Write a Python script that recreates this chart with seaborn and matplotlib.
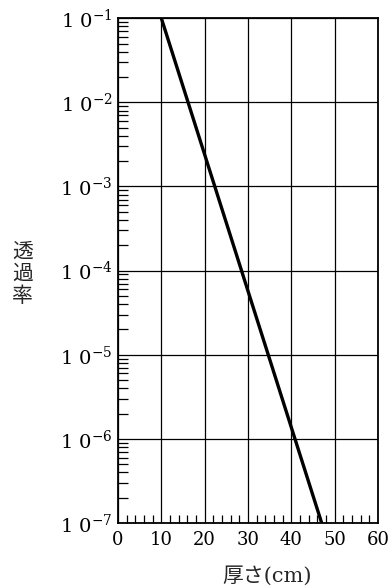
import numpy as np
import matplotlib
matplotlib.use("Agg")
import matplotlib.pyplot as plt
from matplotlib.ticker import LogLocator, MultipleLocator, FixedLocator, FixedFormatter, NullFormatter
import seaborn as sns

sns.set_style("white")
plt.rcParams['font.family'] = ['DejaVu Serif', 'Noto Sans CJK JP']
plt.rcParams['mathtext.fontset'] = 'dejavuserif'

# === data ===
thickness = [10, 47]              # cm
transmission = [1e-1, 1e-7]
x_ticks = [0, 10, 20, 30, 40, 50, 60]
y_decades = [-7, -6, -5, -4, -3, -2, -1]

fig = plt.figure(figsize=(3.9, 5.88), dpi=100)
ax = fig.add_axes([0.3026, 0.1105, 0.6667, 0.8585])

sns.lineplot(x=thickness, y=transmission, color="black", linewidth=2.4, ax=ax)

ax.set_yscale("log")
ax.set_xlim(0, 60)
ax.set_ylim(1e-7, 1e-1)

# grid on major positions
ax.xaxis.set_major_locator(FixedLocator(x_ticks))
ax.yaxis.set_major_locator(FixedLocator([10.0 ** d for d in y_decades]))
ax.yaxis.set_major_formatter(FixedFormatter(["1 0$^{%d}$" % d for d in y_decades]))
ax.xaxis.set_minor_locator(MultipleLocator(2))
ax.yaxis.set_minor_locator(LogLocator(base=10, subs=np.arange(2, 10)))
ax.yaxis.set_minor_formatter(NullFormatter())
ax.grid(True, which="major", color="black", linewidth=0.9)

ax.tick_params(bottom=True, left=True, which="both")
ax.tick_params(which="major", length=0, labelsize=13, colors="black", pad=6)
ax.tick_params(axis="y", which="major", labelsize=14, pad=4)
ax.tick_params(which="minor", direction="in", length=7, width=0.9, color="black")
ax.tick_params(axis="x", which="minor", length=6)

for s in ax.spines.values():
    s.set_color("black")
    s.set_linewidth(1.3)

fig.text(0.057, 0.534, "透\n過\n率", family=['Noto Sans CJK JP'], fontsize=15,
         ha="center", va="center", linespacing=1.0)
fig.text(0.684, 0.02, "厚さ(cm)", family=['DejaVu Serif', 'Noto Sans CJK JP'],
         fontsize=15, ha="center", va="center")

fig.savefig("out.png", dpi=100)
